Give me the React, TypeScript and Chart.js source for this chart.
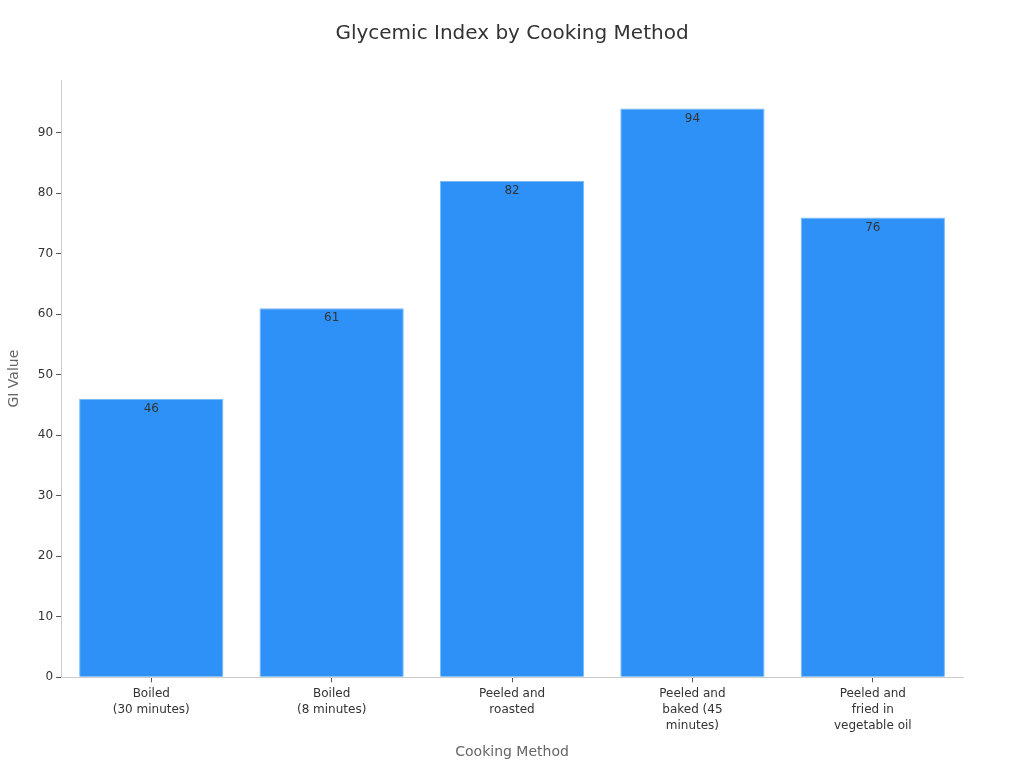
import { useEffect, useRef } from "react"
import { Chart, type ChartConfiguration, registerables } from "chart.js"

Chart.register(...registerables)

const categories: (string | string[])[] = [
  ["Boiled", "(30 minutes)"],
  ["Boiled", "(8 minutes)"],
  ["Peeled and", "roasted"],
  ["Peeled and", "baked (45", "minutes)"],
  ["Peeled and", "fried in", "vegetable oil"],
]
const giValues = [46, 61, 82, 94, 76]

const TITLE = "Glycemic Index by Cooking Method"
const FONT = "'DejaVu Sans', sans-serif"

export default function App() {
  const chartRef = useRef<HTMLCanvasElement>(null)
  const chartInstance = useRef<Chart | null>(null)

  useEffect(() => {
    if (!chartRef.current) return
    if (chartInstance.current) chartInstance.current.destroy()
    const ctx = chartRef.current.getContext("2d")
    if (!ctx) return

    const config: ChartConfiguration = {
      type: "bar",
      data: {
        labels: categories,
        datasets: [
          {
            label: "GI Value",
            data: giValues,
            backgroundColor: "#2E91F8",
            borderColor: "#7DBAF6",
            borderWidth: 1,
            barPercentage: 0.8,
            categoryPercentage: 1,
          },
        ],
      },
      options: {
        animation: false,
        responsive: true,
        maintainAspectRatio: false,
        layout: { padding: { top: 80, right: 61, bottom: 0, left: 2 } },
        plugins: {
          legend: { display: false },
          tooltip: { enabled: false },
          title: { display: false },
        },
        scales: {
          x: {
            border: { color: "#cccccc" },
            grid: { offset: false, drawOnChartArea: false, drawTicks: true, tickLength: 5, color: "#555555" },
            ticks: {
              font: { family: FONT, size: 12, lineHeight: 1.33 },
              color: "#333333",
              maxRotation: 0,
              padding: 4,
            },
            title: {
              display: true,
              text: "Cooking Method",
              font: { family: FONT, size: 14 },
              color: "#666666",
              padding: { top: 6, bottom: 7 },
            },
          },
          y: {
            min: 0,
            max: 98.7,
            border: { color: "#cccccc" },
            grid: { drawOnChartArea: false, drawTicks: true, tickLength: 5, color: "#555555" },
            afterBuildTicks: (scale) => {
              scale.ticks = scale.ticks.filter((t) => t.value % 10 === 0)
            },
            ticks: {
              stepSize: 10,
              font: { family: FONT, size: 12 },
              color: "#333333",
              padding: 3,
            },
            title: {
              display: true,
              text: "GI Value",
              font: { family: FONT, size: 14 },
              color: "#666666",
              padding: { bottom: 12 },
            },
          },
        },
      },
      plugins: [
        {
          id: "titleAndValues",
          afterDatasetsDraw: (chart) => {
            const c = chart.ctx
            const meta = chart.getDatasetMeta(0)
            c.save()
            c.font = `12px ${FONT}`
            c.fillStyle = "#333333"
            c.textAlign = "center"
            c.textBaseline = "top"
            meta.data.forEach((bar, i) => {
              c.fillText(String(giValues[i]), bar.x, bar.y + 4)
            })
            c.font = `20px ${FONT}`
            c.textBaseline = "middle"
            c.fillText(TITLE, chart.width / 2, 34)
            c.restore()
          },
        },
      ],
    }

    chartInstance.current = new Chart(ctx, config)
    return () => {
      if (chartInstance.current) chartInstance.current.destroy()
    }
  }, [])

  return (
    <div style={{ position: "absolute", left: 0, top: 0, width: 1024, height: 768, background: "#fff" }}>
      <canvas ref={chartRef} />
    </div>
  )
}
